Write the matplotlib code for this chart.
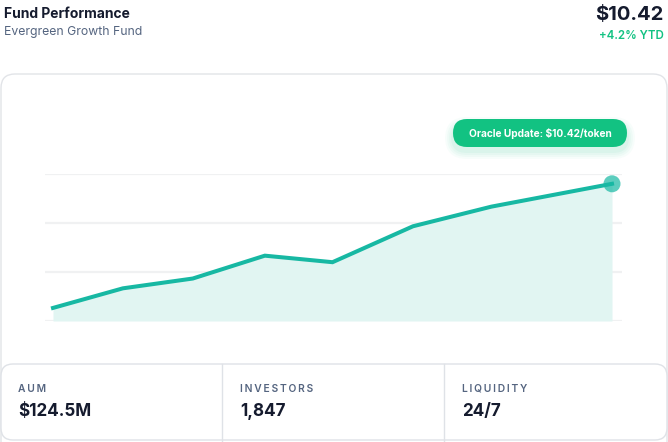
import matplotlib.pyplot as plt
from matplotlib.patches import FancyBboxPatch

# fund price series (x as percent of period elapsed)
period_pct = [0, 12.5, 25, 37.9, 50, 64.4, 78.4, 100]
nav = [10.04, 10.10, 10.13, 10.20, 10.18, 10.29, 10.35, 10.42]
grid_values = [10.00, 10.15, 10.30, 10.45]

stat_labels = ['AUM', 'INVESTORS', 'LIQUIDITY']
stat_values = ['$124.5M', '1,847', '24/7']

TEAL = '#17b8a3'
FILL = '#e1f5f2'
GREEN = '#12c282'
DARK = '#151b2e'
GREY = '#556580'

plt.rcParams['font.family'] = ['Inter', 'DejaVu Sans']

W, H = 668, 442
fig = plt.figure(figsize=(W / 100, H / 100), dpi=100)
fig.patch.set_facecolor('white')

# background axes in pixel coordinates
bg = fig.add_axes([0, 0, 1, 1])
bg.set_xlim(0, W)
bg.set_ylim(H, 0)
bg.axis('off')


def rounded(ax, x0, y0, x1, y1, r, **kw):
    p = FancyBboxPatch((x0 + r, y0 + r), x1 - x0 - 2 * r, y1 - y0 - 2 * r,
                       boxstyle=f'round,pad={r}', **kw)
    ax.add_patch(p)
    return p


# card
rounded(bg, 1, 74, 667, 470, 14, facecolor='white', edgecolor='#e2e4e8', lw=1.0)

# header
bg.text(4, 14, 'Fund Performance', fontsize=10, fontweight='bold', color=DARK,
        va='center', ha='left')
bg.text(4, 32, 'Evergreen Growth Fund', fontsize=8.8, color=GREY,
        va='center', ha='left')
bg.text(664, 15, '$10.42', fontsize=14.5, fontweight='bold', color=DARK,
        va='center', ha='right')
bg.text(664, 36, '+4.2% YTD', fontsize=8.3, fontweight='semibold', color=GREEN,
        va='center', ha='right')

# pill with soft shadow
for i, a in enumerate([0.03, 0.035, 0.04, 0.05]):
    g = 8 - 2 * i
    rounded(bg, 453 - g, 121 - g + 4, 627 + g, 147 + g + 4, 14 + g,
            facecolor=GREEN, edgecolor='none', alpha=a)
rounded(bg, 453, 119, 627, 147, 14, facecolor=GREEN, edgecolor='none')
bg.text(540, 133.5, 'Oracle Update: $10.42/token', fontsize=7.3, fontweight='bold',
        color='white', ha='center', va='center')

# stats panel
rounded(bg, 1, 364, 667, 440, 12, facecolor='white', edgecolor='#dfe2e7', lw=1.0)
for xd in [222, 444]:
    bg.plot([xd, xd], [364, 442], color='#dfe2e7', lw=1.0)
for i, (lab, val) in enumerate(zip(stat_labels, stat_values)):
    x0 = 18 + i * 222
    # thin spaces to mimic letter-spacing
    bg.text(x0, 389, '\u2009'.join(lab), fontsize=7.4, fontweight='semibold',
            color=GREY, ha='left', va='center')
    bg.text(x0, 411, val, fontsize=12.3, fontweight='bold', color=DARK,
            ha='left', va='center')

# chart axes
left, right, top, bottom = 45, 622, 174, 321
ax = fig.add_axes([left / W, 1 - bottom / H, (right - left) / W, (bottom - top) / H])
ax.patch.set_alpha(0)
x0px, x1px = 53, 612
scale = 100 / (x1px - x0px)
ax.set_xlim(-(x0px - left) * scale, 100 + (right - x1px) * scale)
ax.set_ylim(grid_values[0], grid_values[-1])
for gv in grid_values:
    ax.axhline(gv, color='#f0f1f2', lw=1.6, zorder=0)
ax.fill_between(period_pct, nav, grid_values[0], color=FILL, lw=0, zorder=1)
ax.plot(period_pct, nav, color=TEAL, lw=2.9, solid_joinstyle='miter', zorder=2)
ax.scatter([period_pct[-1]], [nav[-1]], s=150, color=TEAL, alpha=0.7,
           edgecolor='none', zorder=3, clip_on=False)
ax.axis('off')

fig.savefig('out.png', dpi=100, facecolor='white')
